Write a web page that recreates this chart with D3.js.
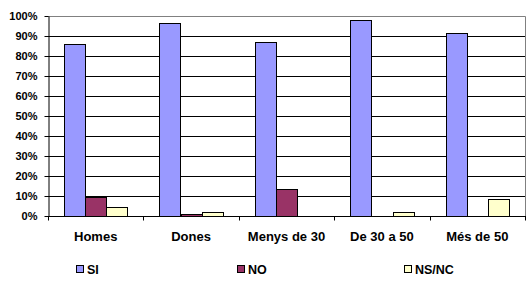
<!DOCTYPE html>
<html><head><meta charset="utf-8">
<script src="https://cdn.jsdelivr.net/npm/d3@7"></script>
<style>body{margin:0;background:#fff;} text{font-family:"Liberation Sans",Arial,sans-serif;font-weight:bold;}</style>
</head><body>
<svg id="c" width="530" height="288"></svg>
<script>
const categories = ["Homes","Dones","Menys de 30","De 30 a 50","Més de 50"];
const series = ["SI","NO","NS/NC"];
const valSI = [86, 96.3, 87, 97.8, 91.3];
const valNO = [9.7, 1.2, 13.5, 0, 0];
const valNSNC = [4.3, 1.8, 0, 1.8, 8.3];
const colors = ["#9999FF","#993366","#FFFFCC"];
const yTicks = [0,10,20,30,40,50,60,70,80,90,100];

const svg = d3.select("#c");
const L = 48, T = 16, R = 525, B = 216;
const x0 = d3.scaleBand().domain(categories).range([L, R]).paddingInner(0).paddingOuter(0);
const x1 = d3.scaleBand().domain(series).range([0, x0.bandwidth()]).paddingInner(0).paddingOuter(0.75);
const y = d3.scaleLinear().domain([0,100]).range([B, T]);
const color = d3.scaleOrdinal().domain(series).range(colors);
const vals = [valSI, valNO, valNSNC];

// gridlines
svg.append("g").selectAll("line").data(yTicks.filter(d=>d>0&&d<100)).join("line")
  .attr("x1", L).attr("x2", R)
  .attr("y1", d=>Math.round(y(d))+0.5).attr("y2", d=>Math.round(y(d))+0.5)
  .attr("stroke","#000").attr("stroke-width",1);
// top & right border gray
svg.append("path").attr("d",`M${L},${T+0.5}H${R+0.5}V${B}`).attr("fill","none").attr("stroke","#808080");

// bars
const data = [];
categories.forEach((c,i)=>series.forEach((s,j)=>data.push({c,s,v:vals[j][i]})));
svg.append("g").selectAll("rect").data(data.filter(d=>d.v>0)).join("rect")
  .attr("x", d=>Math.round(x0(d.c)+x1(d.s))+0.5)
  .attr("width", x1.bandwidth()-0.2)
  .attr("y", d=>Math.round(y(d.v))+0.5)
  .attr("height", d=>B-Math.round(y(d.v)))
  .attr("fill", d=>color(d.s)).attr("stroke","#000").attr("stroke-width",1);

// y axis
const ya = svg.append("g").attr("transform",`translate(${L+0.5},0)`)
  .call(d3.axisLeft(y).tickValues(yTicks).tickFormat(d=>d+"%").tickSize(4).tickSizeOuter(0));
ya.select(".domain").attr("stroke","#000");
ya.selectAll(".tick line").attr("stroke","#000");
ya.selectAll(".tick text").attr("font-size","11px").attr("fill","#000").attr("x",-11).attr("dy","0.36em");
ya.attr("font-family",null);

// x axis
const xa = svg.append("g").attr("transform",`translate(0,${B+0.5})`);
xa.append("line").attr("x1",L).attr("x2",R+1).attr("stroke","#000");
const bounds = categories.map(c=>x0(c)).concat([R]);
xa.selectAll("line.t").data(bounds).join("line").attr("class","t")
  .attr("x1",d=>Math.round(d)+0.5).attr("x2",d=>Math.round(d)+0.5).attr("y1",0).attr("y2",4).attr("stroke","#000");
xa.selectAll("text").data(categories).join("text")
  .attr("x", d=>x0(d)+x0.bandwidth()/2).attr("y", 24)
  .attr("text-anchor","middle").attr("font-size","13px").attr("fill","#000").text(d=>d);

// legend
const legX = [76, 237, 404];
const lg = svg.append("g").selectAll("g").data(series).join("g")
  .attr("transform",(d,i)=>`translate(${legX[i]},265)`);
lg.append("rect").attr("x",0.5).attr("y",0.5).attr("width",7).attr("height",7)
  .attr("fill",d=>color(d)).attr("stroke","#000");
lg.append("text").attr("x",11).attr("y",8.5).attr("font-size","12.5px").attr("fill","#000").text(d=>d);
</script>
</body></html>
